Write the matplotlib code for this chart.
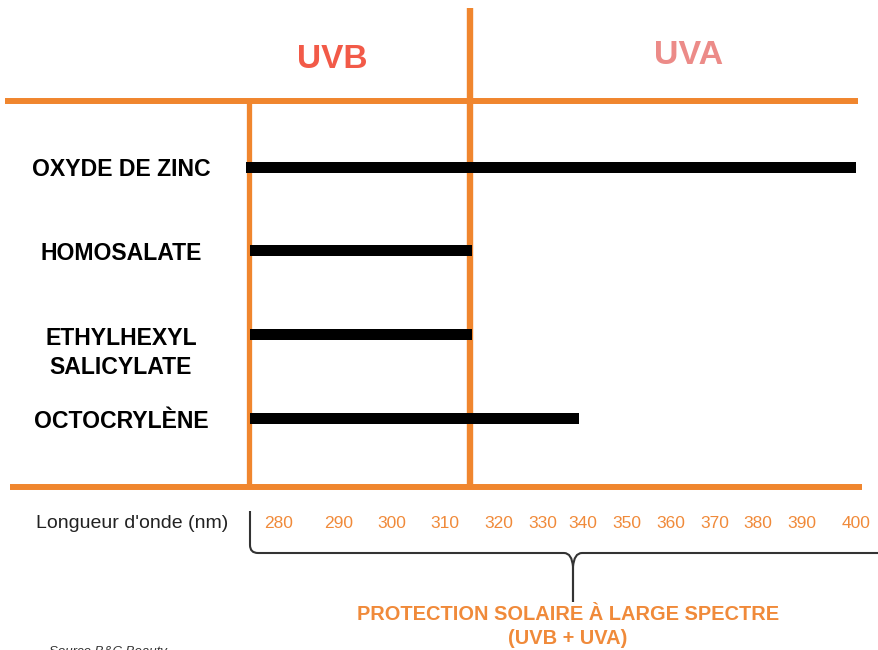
import numpy as np
import matplotlib
matplotlib.use('Agg')
import matplotlib.pyplot as plt
import matplotlib.transforms as mtransforms
from matplotlib.path import Path
from matplotlib.patches import PathPatch
from matplotlib.lines import Line2D

# ---------------------------------------------------------
# data
# ---------------------------------------------------------
filters = ['OXYDE DE ZINC', 'HOMOSALATE', 'ETHYLHEXYL\nSALICYLATE', 'OCTOCRYLÈNE']
start_nm = [274.5, 275.2, 275.2, 275.2]
end_nm = [400, 315, 315, 339]

wavelengths = [280, 290, 300, 310, 320, 330, 340, 350, 360, 370, 380, 390, 400]

uvb_start = 275
uvb_uva_limit = 314.6

# ---------------------------------------------------------
# layout (pixels)
# ---------------------------------------------------------
W, H = 879, 650
tick_px = [279, 339, 392, 445, 499, 543, 583, 627, 671, 715, 758, 802, 856]
ROW_TOP = 167
ROW_STEP = 83.7

ORANGE = '#F0862E'
ORANGE_TXT = '#F08A3A'

plt.rcParams['font.family'] = ['Liberation Sans', 'DejaVu Sans']


# wavelength -> pixel, following the (uneven) spacing of the printed scale
def wl_to_px(w):
    w = np.asarray(w, dtype=float)
    p = np.interp(w, wavelengths, tick_px)
    s_lo = (tick_px[1] - tick_px[0]) / (wavelengths[1] - wavelengths[0])
    s_hi = (tick_px[-1] - tick_px[-2]) / (wavelengths[-1] - wavelengths[-2])
    p = np.where(w < wavelengths[0], tick_px[0] + (w - wavelengths[0]) * s_lo, p)
    p = np.where(w > wavelengths[-1], tick_px[-1] + (w - wavelengths[-1]) * s_hi, p)
    return p


def px_to_wl(p):
    p = np.asarray(p, dtype=float)
    w = np.interp(p, tick_px, wavelengths)
    s_lo = (wavelengths[1] - wavelengths[0]) / (tick_px[1] - tick_px[0])
    s_hi = (wavelengths[-1] - wavelengths[-2]) / (tick_px[-1] - tick_px[-2])
    w = np.where(p < tick_px[0], wavelengths[0] + (p - tick_px[0]) * s_lo, w)
    w = np.where(p > tick_px[-1], wavelengths[-1] + (p - tick_px[-1]) * s_hi, w)
    return w


fig = plt.figure(figsize=(W / 100, H / 100), dpi=100)
ax = fig.add_axes([0, 0, 1, 1])
ax.set_xscale('function', functions=(wl_to_px, px_to_wl))
ax.set_xlim(float(px_to_wl(0)), float(px_to_wl(W)))
ax.set_ylim((H - ROW_TOP) / ROW_STEP, -ROW_TOP / ROW_STEP)
ax.axis('off')

# pixel coordinates (origin top-left) for the decoration
px = mtransforms.Affine2D().scale(1 / W, -1 / H).translate(0, 1) + fig.transFigure
data_x = mtransforms.blended_transform_factory(ax.transData, px)

# frame lines
fig.add_artist(Line2D([5, 858], [101, 101], color=ORANGE, lw=4.3, transform=px, solid_capstyle='butt'))
fig.add_artist(Line2D([10, 862], [487, 487], color=ORANGE, lw=4.3, transform=px, solid_capstyle='butt'))
ax.plot([uvb_start, uvb_start], [101, 487], color=ORANGE, lw=3.8, transform=data_x, zorder=2,
        solid_capstyle='butt')
ax.plot([uvb_uva_limit, uvb_uva_limit], [8, 487], color=ORANGE, lw=4.6, transform=data_x, zorder=2,
        solid_capstyle='butt')

# bars
rows = np.arange(len(filters))
widths = np.array(end_nm) - np.array(start_nm)
ax.barh(rows, widths, left=start_nm, height=11 / ROW_STEP, color='black', zorder=3)

# row labels
lab_tr = mtransforms.blended_transform_factory(ax.transAxes, ax.transData)
for i, name in enumerate(filters):
    n_lines = name.count('\n') + 1
    off = (3 + (n_lines - 1) * 15.5) / ROW_STEP
    ax.text(121 / W, i + off, name, transform=lab_tr, ha='center', va='center',
            fontsize=16.6, fontweight='bold', color='black', linespacing=1.35)

# band titles
fig.text(332 / W, 1 - 60 / H, 'UVB', ha='center', va='center', fontsize=24, fontweight='bold', color='#F25A48')
fig.text(689 / W, 1 - 56 / H, 'UVA', ha='center', va='center', fontsize=24.5, fontweight='bold', color='#EC8B88')

# wavelength scale
for w in wavelengths:
    ax.text(w, 523, str(w), transform=data_x, ha='center', va='center', fontsize=12.5, color=ORANGE_TXT)
fig.text(132 / W, 1 - 524 / H, "Longueur d'onde (nm)", ha='center', va='center', fontsize=14, color='#222222')

# brace
verts = [(250, 511), (250, 545), (250, 553), (258, 553), (564, 553), (572, 553), (573, 567), (573, 602),
         (573, 602), (573, 567), (574, 553), (582, 553), (880, 553)]
codes = [Path.MOVETO, Path.LINETO, Path.CURVE3, Path.CURVE3, Path.LINETO, Path.CURVE3, Path.CURVE3, Path.LINETO,
         Path.MOVETO, Path.LINETO, Path.CURVE3, Path.CURVE3, Path.LINETO]
fig.add_artist(PathPatch(Path(verts, codes), transform=px, fill=False, edgecolor='#333333', lw=1.5))

fig.text(568 / W, 1 - 614 / H, 'PROTECTION SOLAIRE À LARGE SPECTRE', ha='center', va='center',
         fontsize=14.4, fontweight='bold', color=ORANGE_TXT)
fig.text(568 / W, 1 - 639 / H, '(UVB + UVA)', ha='center', va='center',
         fontsize=14.4, fontweight='bold', color=ORANGE_TXT)

# source note (cut by the bottom edge, as in the original)
fig.text(49 / W, 1 - 655 / H, 'Source B&C Beauty', ha='left', va='baseline', fontsize=9.5,
         fontstyle='italic', color='#333333')

fig.savefig('out.png', dpi=100)
